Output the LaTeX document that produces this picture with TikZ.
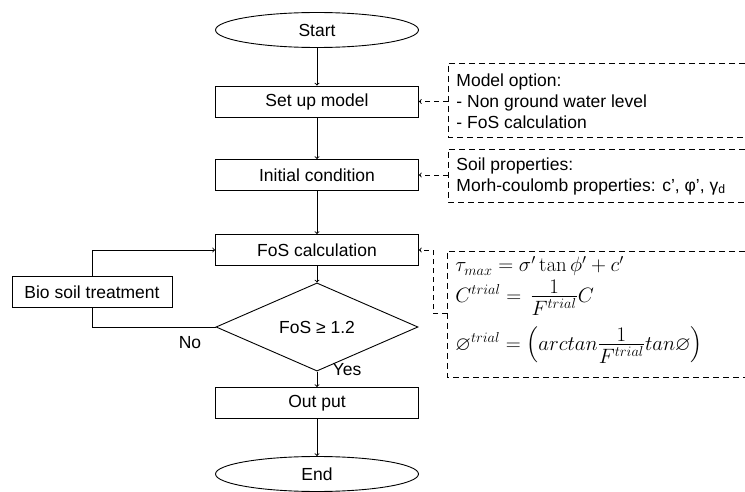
\documentclass[tikz,border=0pt]{standalone}
\usepackage[no-math]{fontspec}
\setmainfont{Liberation Sans}
\usepackage{amsmath}
\usepackage{amssymb}
\usetikzlibrary{arrows,shapes.geometric}
\newcommand{\flatfrac}[2]{\frac{\textstyle #1}{\textstyle #2}}

\begin{document}
\begin{tikzpicture}[x=1pt,y=-1pt,line width=0.9pt,>=to,
font=\fontsize{17.5}{21}\selectfont]
\tikzset{ProcStyle/.style = {
shape = rectangle,
draw,
inner sep = 0pt,
minimum width = 203pt,
minimum height = 31pt},
TermStyle/.style = {
shape = ellipse,
draw,
inner sep = 0pt,
minimum width = 203pt,
minimum height = 35pt},
DecStyle/.style = {
shape = diamond,
draw,
inner sep = 0pt,
minimum width = 202pt,
minimum height = 53pt},
NoteStyle/.style = {
align = left,
anchor = west,
inner sep = 0pt},
EqStyle/.style = {
anchor = base west,
inner sep = 0pt,
font = \fontsize{20}{24}\selectfont},
FrameStyle/.style = {dash pattern = on 6pt off 4pt},
HintStyle/.style = {dash pattern = on 5pt off 4pt,->}}
\useasboundingbox (0,0) rectangle (745,492);
% main flow
\node[TermStyle] (start) at (317,30) {Start};
\node[ProcStyle] (setup) at (317,101.5) {Set up model};
\node[ProcStyle] (init) at (317,175) {Initial condition};
\node[ProcStyle] (fos) at (317,250) {FoS calculation};
\node[DecStyle] (check) at (317,327) {FoS ≥ 1.2};
\node[ProcStyle, minimum width = 160pt] (bio) at (92,292) {Bio soil treatment};
\node[ProcStyle] (output) at (317,403) {Out put};
\node[TermStyle] (stop) at (317,474) {End};
\draw[->] (start) -- (setup);
\draw[->] (setup) -- (init);
\draw[->] (init) -- (fos);
\draw[->] (fos) -- (check);
\draw[->] (check) -- (output);
\draw[->] (output) -- (stop);
\draw (check.west) -| (bio.south);
\draw[->] (bio.north) |- (fos.west);
\node (no) at (190,343) {No};
\node (yes) at (347,370) {Yes};
% side notes
\draw[FrameStyle] (745,63) -- (448,63) -- (448,137) -- (745,137);
\node[NoteStyle] (opt) at (456,101) {Model option:\\- Non ground water level\\- FoS calculation};
\coordinate (optL) at (448,101.5);
\draw[HintStyle] (optL) -- (setup);
\draw[FrameStyle] (745,149) -- (448,149) -- (448,202) -- (745,202);
\node[NoteStyle] (soil) at (456,176) {Soil properties:\\Morh-coulomb properties: c’, φ’, γ\textsubscript{d}};
\coordinate (soilL) at (448,175);
\draw[HintStyle] (soilL) -- (init);
\draw[FrameStyle] (745,251) -- (447,251) -- (447,377) -- (745,377);
\node[EqStyle] (eqa) at (455,272) {$\tau_{max} = \sigma' \tan\phi' + c'$};
\node[EqStyle] (eqb) at (455,302) {$C^{trial} = \,\flatfrac{1}{F^{trial}}C$};
\node[EqStyle] (eqc) at (455,350) {$\varnothing^{trial} = \left(arctan\flatfrac{1}{F^{trial}}tan\varnothing\right)$};
\coordinate (eqL) at (447,313);
\coordinate (eqbend) at (433,313);
\draw[HintStyle] (eqL) -- (eqbend) |- (fos.east);
\end{tikzpicture}
\end{document}
